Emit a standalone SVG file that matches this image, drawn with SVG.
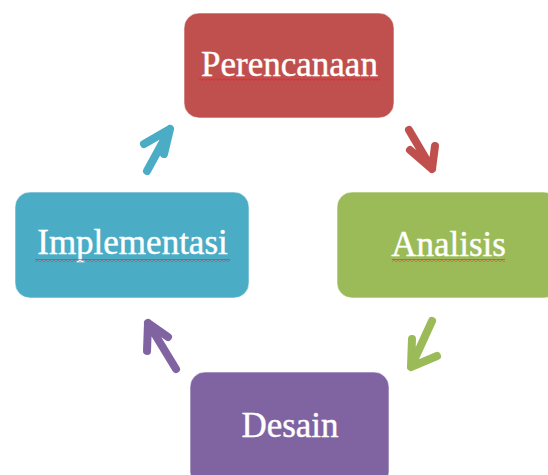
<svg xmlns="http://www.w3.org/2000/svg" width="548" height="475" viewBox="0 0 548 475">
<style>
.box{stroke:#ffffff;stroke-opacity:0.6;stroke-width:1}
.lbl{font-family:"Liberation Serif","DejaVu Serif",serif;font-size:35px;fill:#ffffff;stroke:#ffffff;stroke-width:0.4;text-anchor:middle}
.arr{fill:none;stroke-width:8;stroke-linecap:round;stroke-linejoin:round}
</style>
<defs>
<pattern id="squig" x="0" y="0" width="4" height="3" patternUnits="userSpaceOnUse">
<path d="M0,0.7 L2,2.3 L4,0.7" fill="none" stroke="#e8262a" stroke-width="1"/>
</pattern>
</defs>
<rect width="548" height="475" fill="#ffffff"/>
<g id="connectors">
<path class="arr" stroke="#C0504D" d="M409,130 L432,169 M410,150 L432,169 L435,146"/>
<path class="arr" stroke="#9BBB59" d="M432,321 L411,367 M412,339 L411,367 L437,356"/>
<path class="arr" stroke="#8064A2" d="M176,369 L148,323 M147,351 L148,323 L168,337"/>
<path class="arr" stroke="#4BACC6" d="M147,171 L170,129 M144,144 L170,129 L164,154"/>
</g>
<g id="perencanaan">
<rect class="box" x="184" y="13" width="210" height="105" rx="15" fill="#C0504D"/>
<text class="lbl" x="289.5" y="76">Perencanaan</text>
<rect x="199" y="78" width="181" height="3" fill="url(#squig)"/>
</g>
<g id="analisis">
<rect class="box" x="337" y="192" width="222" height="106" rx="15" fill="#9BBB59"/>
<text class="lbl" x="448.5" y="256">Analisis</text>
<rect x="392" y="259" width="113" height="3" fill="url(#squig)"/>
</g>
<g id="implementasi">
<rect class="box" x="15" y="192" width="234" height="106" rx="15" fill="#4BACC6"/>
<text class="lbl" x="132.5" y="254">Implementasi</text>
<rect x="35" y="259" width="195" height="3" fill="url(#squig)"/>
</g>
<g id="desain">
<rect class="box" x="190" y="372" width="199" height="115" rx="15" fill="#8064A2"/>
<text class="lbl" x="290" y="437">Desain</text>
</g>
</svg>
